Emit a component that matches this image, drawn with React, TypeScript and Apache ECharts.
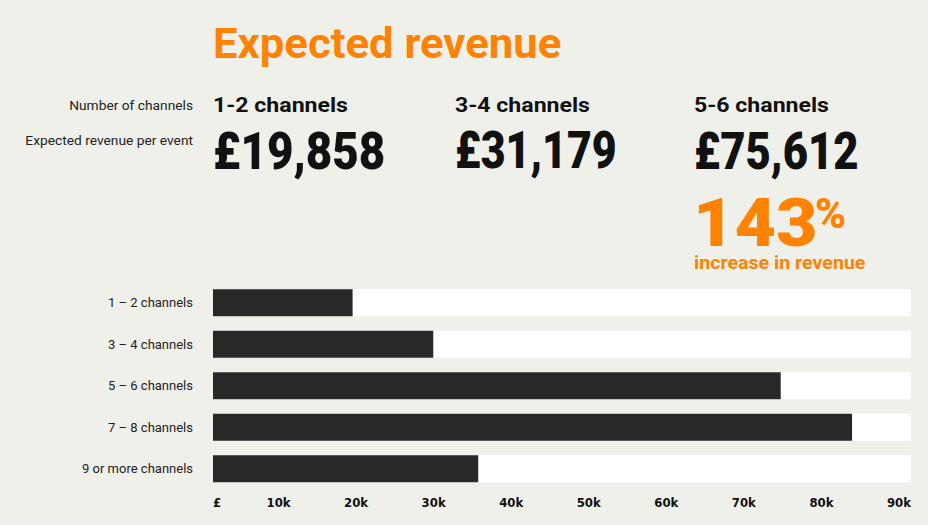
import React, { useEffect, useRef } from "react";
import * as echarts from "echarts";

const categories = ["1 – 2 channels", "3 – 4 channels", "5 – 6 channels", "7 – 8 channels", "9 or more channels"];
const values = [18000, 28400, 73200, 82400, 34200];
const headGroups = ["1-2 channels", "3-4 channels", "5-6 channels"];
const headRevenues = ["£19,858", "£31,179", "£75,612"];
const headX = [213, 455, 694];
const revenueScale = [0.88, 0.825, 0.84];
const increasePct = "143";

const ORANGE = "#ff8300";
const DARK = "#282828";
const BG = "#f0f0eb";

export default function App() {
  const ref = useRef<HTMLDivElement>(null);
  useEffect(() => {
    if (!ref.current) return;
    const chart = echarts.init(ref.current, null, { renderer: "svg" });
    const txt = (
      x: number,
      y: number,
      text: string,
      font: string,
      fill: string,
      align = "left",
      scaleX = 1,
      lineHeight?: number
    ) => ({
      type: "text",
      x,
      y,
      scaleX,
      style: {
        text,
        font,
        fill,
        align,
        textAlign: align,
        verticalAlign: "middle",
        textVerticalAlign: "middle",
        ...(lineHeight ? { lineHeight } : {}),
      },
    });
    const graphics: any[] = [
      txt(213, 43, "Expected revenue", "bold 42px Roboto", ORANGE, "left", 1.04),
      txt(193, 105, "Number of channels", "13.5px Roboto", "#222", "right", 1.02),
      txt(193, 140, "Expected revenue per event", "13.5px Roboto", "#222", "right", 1.02),
    ];
    headGroups.forEach((g, i) => {
      graphics.push(txt(headX[i], 105, g, "bold 21px Roboto", "#111", "left", 1.1, 22));
      graphics.push(txt(headX[i], 151, headRevenues[i], "900 52px Roboto", "#111", "left", revenueScale[i], 50));
    });
    graphics.push(txt(693, 223, increasePct, "900 67px Roboto", ORANGE, "left", 1.07, 54));
    graphics.push(txt(815, 213, "%", "900 42px Roboto", ORANGE, "left", 1, 34));
    graphics.push(txt(694, 263, "increase in revenue", "bold 18px Roboto", ORANGE, "left", 1.09, 18));

    chart.setOption({
      animation: false,
      backgroundColor: BG,
      grid: { left: 213, right: 17, top: 282, bottom: 35.5 },
      xAxis: {
        type: "value",
        min: 0,
        max: 90000,
        interval: 10000,
        axisLine: { show: false },
        axisTick: { show: false },
        splitLine: { show: false },
        axisLabel: {
          formatter: (v: number) => (v === 0 ? "£" : v / 1000 + "k"),
          fontFamily: "DejaVu Sans Condensed",
          fontWeight: "bold",
          fontSize: 13,
          color: "#111",
          align: "right",
          alignMinLabel: "left",
          margin: 6,
        },
      },
      yAxis: {
        type: "category",
        data: categories,
        inverse: true,
        axisLine: { show: false },
        axisTick: { show: false },
        axisLabel: { fontFamily: "Roboto", fontSize: 13, color: "#222", margin: 20, padding: [3, 0, 0, 0] },
      },
      series: [
        {
          type: "bar",
          data: values,
          barWidth: 27,
          itemStyle: { color: DARK },
          showBackground: true,
          backgroundStyle: { color: "#ffffff" },
        },
      ],
      graphic: graphics,
    });
    return () => chart.dispose();
  }, []);
  return <div ref={ref} style={{ position: "fixed", left: 0, top: 0, width: 928, height: 525 }} />;
}
